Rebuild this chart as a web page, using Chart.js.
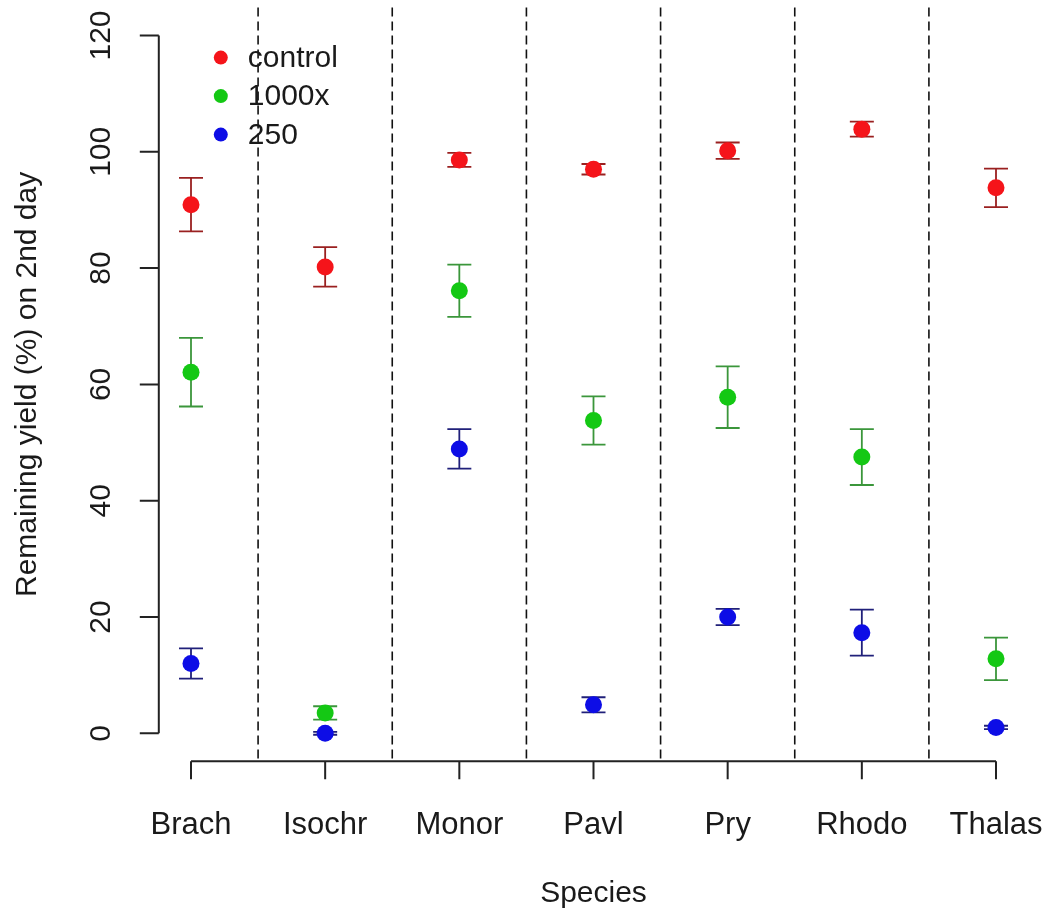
<!DOCTYPE html>
<html>
<head>
<meta charset="utf-8">
<script src="https://cdn.jsdelivr.net/npm/chart.js@4/dist/chart.umd.min.js"></script>
<style>
  body { margin: 0; background: #fff; }
  canvas { display: block; }
</style>
</head>
<body>
<canvas id="chart" width="1045" height="917"></canvas>
<script>
const species = ['Brach', 'Isochr', 'Monor', 'Pavl', 'Pry', 'Rhodo', 'Thalas'];
const controlMean = [90.9, 80.2, 98.6, 97.0, 100.2, 103.9, 93.8];
const controlErr = [4.6, 3.4, 1.2, 0.9, 1.4, 1.3, 3.3];
const x1000Mean = [62.1, 3.5, 76.1, 53.8, 57.8, 47.5, 12.8];
const x1000Err = [5.9, 1.15, 4.5, 4.15, 5.3, 4.8, 3.65];
const x250Mean = [12.0, 0.0, 48.9, 4.9, 20.0, 17.3, 1.0];
const x250Err = [2.6, 0.25, 3.4, 1.3, 1.4, 3.95, 0.3];
const yTicks = [0, 20, 40, 60, 80, 100, 120];

const FONT = "'Liberation Sans', Arial, sans-serif";
const TXT = '#1a1a1a';

function series(label, mean, err, color, barColor) {
    return {
        label,
        data: mean.map((v, i) => ({ x: i + 1, y: v })),
        errors: err,
        barColor,
        backgroundColor: color,
        borderWidth: 0,
        pointRadius: 8.5,
        pointHoverRadius: 8.5
    };
}

// dashed separators, error bars and R-style axis lines
const rPlot = {
    id: 'rPlot',
    beforeDatasetsDraw(chart) {
        const { ctx, chartArea: a, scales: { x, y } } = chart;
        ctx.save();
        ctx.strokeStyle = '#111';
        ctx.lineWidth = 1.6;
        ctx.setLineDash([9, 5]);
        for (let i = 1; i < species.length; i++) {
            const px = x.getPixelForValue(i + 0.5);
            ctx.beginPath();
            ctx.moveTo(px, a.top);
            ctx.lineTo(px, a.bottom);
            ctx.stroke();
        }
        ctx.setLineDash([]);

        chart.data.datasets.forEach(ds => {
            ctx.strokeStyle = ds.barColor;
            ctx.lineWidth = 1.8;
            ds.data.forEach((p, i) => {
                const px = x.getPixelForValue(p.x);
                const lo = y.getPixelForValue(p.y - ds.errors[i]);
                const hi = y.getPixelForValue(p.y + ds.errors[i]);
                ctx.beginPath();
                ctx.moveTo(px, lo); ctx.lineTo(px, hi);
                ctx.moveTo(px - 12, lo); ctx.lineTo(px + 12, lo);
                ctx.moveTo(px - 12, hi); ctx.lineTo(px + 12, hi);
                ctx.stroke();
            });
        });

        ctx.strokeStyle = '#222';
        ctx.lineWidth = 2;
        ctx.beginPath();
        ctx.moveTo(a.left, y.getPixelForValue(yTicks[0]));
        ctx.lineTo(a.left, y.getPixelForValue(yTicks[yTicks.length - 1]));
        yTicks.forEach(v => {
            const py = y.getPixelForValue(v);
            ctx.moveTo(a.left, py); ctx.lineTo(a.left - 19, py);
        });
        ctx.moveTo(x.getPixelForValue(1), a.bottom);
        ctx.lineTo(x.getPixelForValue(species.length), a.bottom);
        species.forEach((s, i) => {
            const px = x.getPixelForValue(i + 1);
            ctx.moveTo(px, a.bottom); ctx.lineTo(px, a.bottom + 18);
        });
        ctx.stroke();
        ctx.restore();
    },
    afterDraw(chart) {
        const { ctx, chartArea: a } = chart;
        ctx.save();
        ctx.font = '30px ' + FONT;
        ctx.textBaseline = 'middle';
        chart.data.datasets.forEach((ds, i) => {
            const cy = a.top + 50 + i * 38.5;
            ctx.fillStyle = ds.backgroundColor;
            ctx.beginPath();
            ctx.arc(a.left + 62, cy, 7, 0, Math.PI * 2);
            ctx.fill();
            ctx.fillStyle = TXT;
            ctx.fillText(ds.label, a.left + 89, cy + 1);
        });
        ctx.restore();
    }
};

new Chart(document.getElementById('chart').getContext('2d'), {
    type: 'scatter',
    data: {
        datasets: [
            series('control', controlMean, controlErr, '#f5141a', '#9a2020'),
            series('1000x', x1000Mean, x1000Err, '#14c814', '#3b963b'),
            series('250', x250Mean, x250Err, '#0d0de6', '#20207a')
        ]
    },
    options: {
        responsive: false,
        animation: false,
        layout: { autoPadding: false, padding: { top: 7.6, right: 16.8, left: 0, bottom: 0 } },
        plugins: { legend: { display: false }, tooltip: { enabled: false } },
        scales: {
            x: {
                type: 'linear', min: 0.76, max: 7.24,
                grid: { display: false }, border: { display: false },
                afterBuildTicks: s => { s.ticks = species.map((_, i) => ({ value: i + 1 })); },
                ticks: {
                    callback: (v, i) => species[i],
                    font: { family: FONT, size: 31 }, color: TXT,
                    padding: 38, maxRotation: 0, autoSkip: false
                },
                title: {
                    display: true, text: 'Species', color: TXT,
                    font: { family: FONT, size: 30 }, padding: { top: 0, bottom: 5 }
                },
                afterFit: s => {
                    s.height = 155.8;
                    s.paddingLeft = 0; s.paddingRight = 0;
                }
            },
            y: {
                type: 'linear', min: -4.8, max: 124.8,
                grid: { display: false }, border: { display: false },
                afterBuildTicks: s => { s.ticks = yTicks.map(v => ({ value: v })); },
                ticks: {
                    minRotation: 90, maxRotation: 90, crossAlign: 'center',
                    font: { family: FONT, size: 30 }, color: TXT, padding: 24
                },
                title: {
                    display: true, text: 'Remaining yield (%) on 2nd day', color: TXT,
                    font: { family: FONT, size: 30 }, padding: { top: 10, bottom: 0 }
                },
                afterFit: s => {
                    s.width = 158.8;
                    s.paddingTop = 0; s.paddingBottom = 0;
                }
            }
        }
    },
    plugins: [rPlot]
});
</script>
</body>
</html>
